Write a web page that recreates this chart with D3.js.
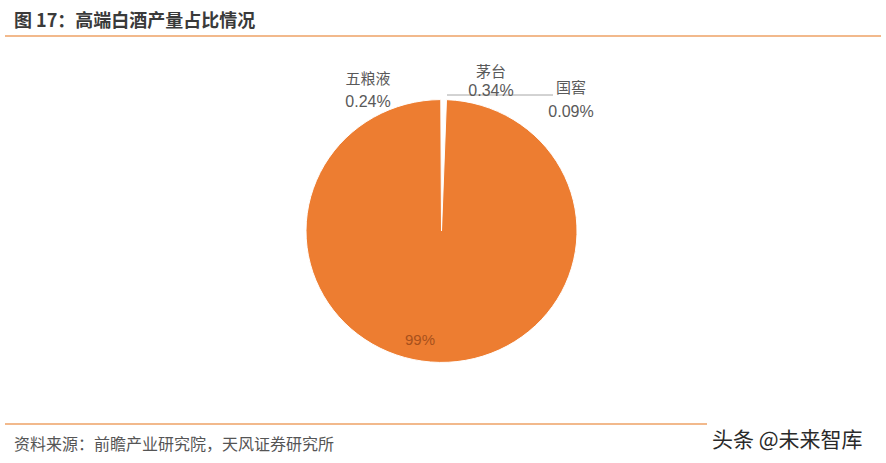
<!DOCTYPE html>
<html><head><meta charset="utf-8">
<script src="https://cdn.jsdelivr.net/npm/d3@7"></script>
<style>body{margin:0;background:#fff;}svg{display:block;font-family:"Noto Sans CJK SC","Liberation Sans",sans-serif;}</style>
</head><body>
<script>
const categories = ["五粮液", "茅台", "国窖", "其他"];
const values = [0.24, 0.34, 0.09, 99.33];
const valueLabels = ["0.24%", "0.34%", "0.09%", "99%"];
const title = "图 17：高端白酒产量占比情况";
const source = "资料来源：前瞻产业研究院，天风证券研究所";
const watermark = "头条 @未来智库";

const W = 886, H = 463;
const svg = d3.select("body").append("svg").attr("width", W).attr("height", H);

svg.append("text").attr("x", 14).attr("y", 27).attr("font-size", 18).attr("font-weight", "bold")
  .attr("fill", "#3a3a3a").text(title);
svg.append("line").attr("x1", 5).attr("x2", 881).attr("y1", 36).attr("y2", 36)
  .attr("stroke", "#f2b98c").attr("stroke-width", 2);

const cx = 441.5, cy = 231, r = 135.5;
const startOff = -0.3 * Math.PI / 180;
const pie = d3.pie().sort(null).value(d => d).startAngle(startOff).endAngle(startOff + 2 * Math.PI);
const arcs = pie(values);
const arc = d3.arc().innerRadius(0).outerRadius(r);
const g = svg.append("g").attr("transform", `translate(${cx},${cy}) scale(1,0.97)`);
g.selectAll("path").data(arcs).join("path")
  .attr("d", arc)
  .attr("fill", (d, i) => i === 3 ? "#ed7d31" : "#ffffff")
  .attr("stroke", "#ffffff").attr("stroke-width", 1);

// leader line
svg.append("line").attr("x1", 447).attr("x2", 553).attr("y1", 95).attr("y2", 95)
  .attr("stroke", "#a6a6a6").attr("stroke-width", 1);

const labelPos = [[368, 84, 107], [491, 77, 96], [571, 93, 117]];
const lg = svg.append("g").attr("font-size", 16).attr("fill", "#595959").attr("text-anchor", "middle");
labelPos.forEach((p, i) => {
  lg.append("text").attr("x", p[0]).attr("y", p[1]).attr("font-size", 15).text(categories[i]);
  lg.append("text").attr("x", p[0]).attr("y", p[2]).attr("font-family", "Liberation Sans, sans-serif").text(valueLabels[i]);
});
svg.append("text").attr("x", 420).attr("y", 345).attr("text-anchor", "middle")
  .attr("font-family", "Liberation Sans, sans-serif").attr("font-size", 15).attr("fill", "#a8511c").text(valueLabels[3]);

svg.append("line").attr("x1", 5).attr("x2", 707).attr("y1", 424).attr("y2", 424)
  .attr("stroke", "#f2b98c").attr("stroke-width", 2);
svg.append("text").attr("x", 14).attr("y", 450).attr("font-size", 16).attr("fill", "#555").text(source);
svg.append("text").attr("x", 712).attr("y", 447).attr("font-size", 21).attr("fill", "#2a2a2a").text(watermark);
</script>
</body></html>
